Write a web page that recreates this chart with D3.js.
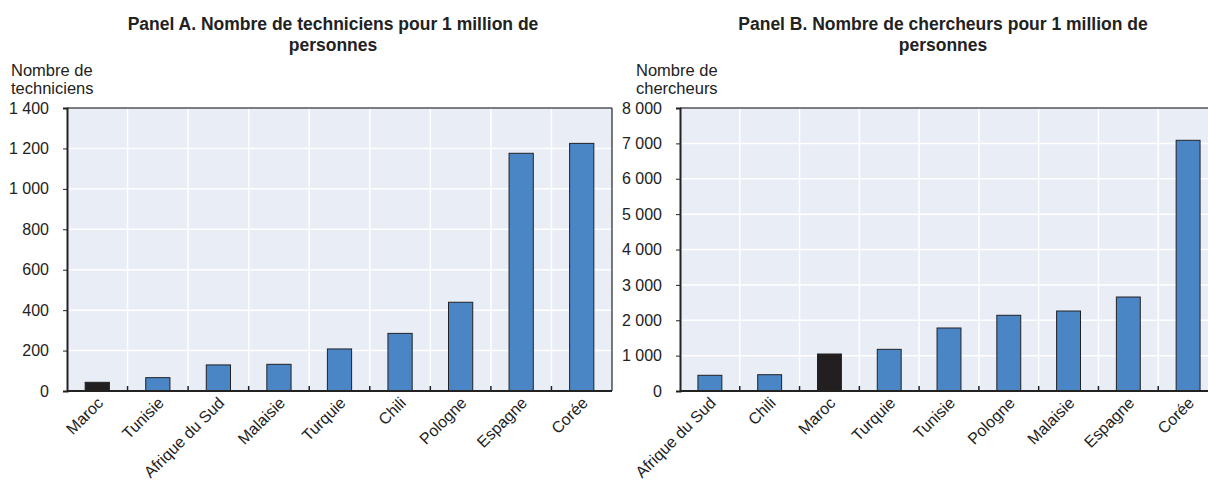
<!DOCTYPE html>
<html>
<head>
<meta charset="utf-8">
<script src="https://cdn.jsdelivr.net/npm/d3@7"></script>
<style>
  body { margin: 0; background: #fff; }
  svg { display: block; font-family: "Liberation Sans", Arial, sans-serif; }
</style>
</head>
<body>
<svg id="chart" width="1208" height="483"></svg>
<script>
// Panel A: techniciens pour 1 million de personnes
var techCountries = ["Maroc", "Tunisie", "Afrique du Sud", "Malaisie", "Turquie", "Chili", "Pologne", "Espagne", "Corée"];
var techValues = [43, 66, 129, 132, 208, 285, 439, 1176, 1225];
var techTicks = [0, 200, 400, 600, 800, 1000, 1200, 1400];

// Panel B: chercheurs pour 1 million de personnes
var resCountries = ["Afrique du Sud", "Chili", "Maroc", "Turquie", "Tunisie", "Pologne", "Malaisie", "Espagne", "Corée"];
var resValues = [444, 461, 1046, 1178, 1781, 2140, 2261, 2657, 7087];
var resTicks = [0, 1000, 2000, 3000, 4000, 5000, 6000, 7000, 8000];

var highlight = "Maroc";
var fmt = function (d) { return d3.format(",")(d).replace(/,/g, " "); };

var svg = d3.select("#chart");

function panel(opts) {
    var g = svg.append("g");
    var x = d3.scaleBand().domain(opts.categories).range([opts.left, opts.right]).paddingInner(0.6).paddingOuter(0.3);
    var xs = d3.scaleBand().domain(opts.categories).range([opts.left, opts.right]);
    var y = d3.scaleLinear().domain([0, opts.max]).range([opts.bottom, opts.top]);

    g.append("rect")
        .attr("x", opts.left).attr("y", opts.top)
        .attr("width", opts.right - opts.left).attr("height", opts.bottom - opts.top)
        .attr("fill", "#e9edf6");

    // horizontal grid
    g.selectAll(".hg").data(opts.ticks.slice(1, -1)).enter().append("line")
        .attr("x1", opts.left).attr("x2", opts.right)
        .attr("y1", function (d) { return y(d); }).attr("y2", function (d) { return y(d); })
        .attr("stroke", "#fff").attr("stroke-width", 1.5);

    // vertical grid at category boundaries
    var bounds = opts.categories.slice(1).map(function (c) { return xs(c); });
    g.selectAll(".vg").data(bounds).enter().append("line")
        .attr("x1", function (d) { return d; }).attr("x2", function (d) { return d; })
        .attr("y1", opts.top).attr("y2", opts.bottom)
        .attr("stroke", "#fff").attr("stroke-width", 1.5);

    // bars
    g.selectAll(".bar").data(opts.values).enter().append("rect")
        .attr("x", function (d, i) { return x(opts.categories[i]); })
        .attr("y", function (d) { return y(d); })
        .attr("width", x.bandwidth())
        .attr("height", function (d) { return opts.bottom - y(d); })
        .attr("fill", function (d, i) { return opts.categories[i] === highlight ? "#231f20" : "#4a86c6"; })
        .attr("stroke", "#222").attr("stroke-width", 1);

    // bottom tick marks
    g.selectAll(".bt").data(bounds).enter().append("line")
        .attr("x1", function (d) { return d; }).attr("x2", function (d) { return d; })
        .attr("y1", opts.bottom).attr("y2", opts.bottom - 5)
        .attr("stroke", "#222").attr("stroke-width", 1.5);

    // frame
    g.append("line").attr("x1", opts.left).attr("x2", opts.right).attr("y1", opts.top).attr("y2", opts.top)
        .attr("stroke", "#555").attr("stroke-width", 1.5);
    g.append("line").attr("x1", opts.right).attr("x2", opts.right).attr("y1", opts.top).attr("y2", opts.bottom)
        .attr("stroke", "#222").attr("stroke-width", 1.2);

    // y axis
    var yAxis = g.append("g").attr("transform", "translate(" + opts.left + ",0)")
        .call(d3.axisLeft(y).tickValues(opts.ticks).tickFormat(fmt).tickSize(4).tickPadding(14));
    yAxis.select(".domain").attr("stroke", "#222").attr("stroke-width", 2);
    yAxis.selectAll(".tick line").attr("stroke", "#222");
    yAxis.selectAll(".tick text").attr("font-size", 16).attr("fill", "#222")
        .attr("font-family", "Liberation Sans, Arial, sans-serif");

    g.append("line").attr("x1", opts.left).attr("x2", opts.right).attr("y1", opts.bottom).attr("y2", opts.bottom)
        .attr("stroke", "#222").attr("stroke-width", 2);

    // x labels
    g.selectAll(".xl").data(opts.categories).enter().append("text")
        .attr("transform", function (d) {
            return "translate(" + (xs(d) + xs.bandwidth() / 2 + 7) + "," + (opts.bottom + 13) + ") rotate(-45)";
        })
        .attr("text-anchor", "end")
        .attr("font-size", 16).attr("fill", "#222")
        .text(function (d) { return d; });

    // title
    var t = g.append("text").attr("text-anchor", "middle").attr("font-size", 17.5)
        .attr("font-weight", "bold").attr("fill", "#222");
    t.append("tspan").attr("x", opts.titleX).attr("y", 30).text(opts.title[0]);
    t.append("tspan").attr("x", opts.titleX).attr("y", 51).text(opts.title[1]);

    // y axis title
    var yt = g.append("text").attr("font-size", 16.5).attr("fill", "#222");
    yt.append("tspan").attr("x", opts.ytX).attr("y", 76).text(opts.yTitle[0]);
    yt.append("tspan").attr("x", opts.ytX).attr("y", 94).text(opts.yTitle[1]);
}

panel({
    categories: techCountries, values: techValues, ticks: techTicks, max: 1400,
    left: 67, right: 612, top: 108, bottom: 391,
    title: ["Panel A. Nombre de techniciens pour 1 million de", "personnes"], titleX: 333,
    yTitle: ["Nombre de", "techniciens"], ytX: 11
});

panel({
    categories: resCountries, values: resValues, ticks: resTicks, max: 8000,
    left: 680, right: 1218, top: 108, bottom: 391,
    title: ["Panel B. Nombre de chercheurs pour 1 million de", "personnes"], titleX: 943,
    yTitle: ["Nombre de", "chercheurs"], ytX: 636
});
</script>
</body>
</html>
